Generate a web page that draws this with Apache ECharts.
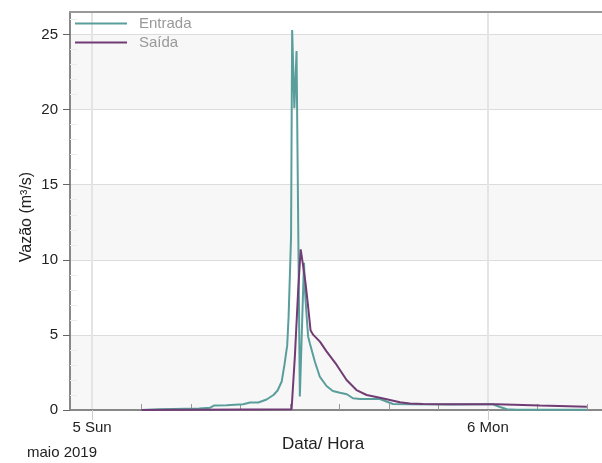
<!DOCTYPE html>
<html>
<head>
<meta charset="utf-8">
<script src="https://cdn.jsdelivr.net/npm/echarts@6/dist/echarts.min.js"></script>
<style>html,body{margin:0;padding:0;background:#fff}#c{width:602px;height:463px}</style>
</head>
<body>
<div id="c"></div>
<script>
// ---- data ----
const seriesNames = ['Entrada', 'Saída'];
const entradaTime = ['2019-05-05 03:00','2019-05-05 04:05','2019-05-05 06:30','2019-05-05 07:10','2019-05-05 07:25','2019-05-05 08:10','2019-05-05 09:10','2019-05-05 09:35','2019-05-05 10:05','2019-05-05 10:35','2019-05-05 11:00','2019-05-05 11:15','2019-05-05 11:30','2019-05-05 11:40','2019-05-05 11:50','2019-05-05 11:55','2019-05-05 12:00','2019-05-05 12:04','2019-05-05 12:08','2019-05-05 12:16','2019-05-05 12:24','2019-05-05 12:36','2019-05-05 12:51','2019-05-05 12:56','2019-05-05 13:06','2019-05-05 13:13','2019-05-05 13:31','2019-05-05 13:49','2019-05-05 14:13','2019-05-05 14:36','2019-05-05 15:02','2019-05-05 15:27','2019-05-05 15:49','2019-05-05 16:15','2019-05-05 17:27','2019-05-05 17:53','2019-05-05 18:15','2019-05-05 19:16','2019-05-05 21:42','2019-05-06 00:00','2019-05-06 00:18','2019-05-06 00:44','2019-05-06 01:09','2019-05-06 01:45','2019-05-06 06:00'];
const entradaValue = [0,0.05,0.1,0.15,0.3,0.32,0.38,0.5,0.5,0.7,1.0,1.3,1.9,3.0,4.3,6.2,9.1,11.5,25.3,20.1,23.9,0.9,9.8,7.5,4.9,4.4,3.2,2.2,1.6,1.27,1.15,1.05,0.78,0.73,0.73,0.55,0.4,0.38,0.36,0.38,0.38,0.2,0.05,0.01,0.01];
const saidaTime = ['2019-05-05 03:00','2019-05-05 12:06','2019-05-05 12:18','2019-05-05 12:30','2019-05-05 12:39','2019-05-05 12:48','2019-05-05 12:57','2019-05-05 13:06','2019-05-05 13:15','2019-05-05 13:25','2019-05-05 13:49','2019-05-05 14:13','2019-05-05 14:50','2019-05-05 15:26','2019-05-05 16:02','2019-05-05 16:39','2019-05-05 17:27','2019-05-05 18:04','2019-05-05 18:40','2019-05-05 19:16','2019-05-05 20:04','2019-05-05 21:42','2019-05-06 00:33','2019-05-06 03:09','2019-05-06 06:00'];
const saidaValue = [0,0.05,3.6,8.0,10.7,9.6,8.4,6.9,5.3,5.0,4.55,3.9,3.0,2.0,1.33,1.0,0.82,0.67,0.51,0.44,0.4,0.38,0.38,0.3,0.22];
const xTickTimes = ['2019-05-05 00:00','2019-05-06 00:00'];
const xTickLabels = ['5 Sun','6 Mon'];
const xMinorTickTimes = ['2019-05-05 03:00','2019-05-05 06:00','2019-05-05 09:00','2019-05-05 12:00','2019-05-05 15:00','2019-05-05 18:00','2019-05-05 21:00','2019-05-06 03:00','2019-05-06 06:00'];
const xRange = ['2019-05-04 22:40','2019-05-06 06:55'];
const yMinorTicks = [1,2,3,4,6,7,8,9,11,12,13,14,16,17,18,19,21,22,23,24,26];
const yTitle = 'Vazão (m³/s)';
const xTitle = 'Data/ Hora';
const periodLabel = 'maio 2019';

function ts(s){ return new Date(s.replace(' ','T') + ':00').getTime(); }
const xMin = ts(xRange[0]), xMax = ts(xRange[1]);
const majorX = xTickTimes.map(ts);
const font = 'Liberation Sans, Arial, sans-serif';
const colors = ['#5A9E9C', '#713C74'];

function legendFor(i, top) {
  return {
    data: [{name: seriesNames[i], icon: 'rect', itemStyle: {color: colors[i]}}],
    orient: 'vertical', left: 75, top: top, padding: 0,
    itemWidth: 52, itemHeight: 2,
    textStyle: {color: '#999', fontSize: 15, fontFamily: font, padding: [0,0,0,7]}
  };
}

const chart = echarts.init(document.getElementById('c'), null, {renderer:'canvas'});
chart.setOption({
  animation: false,
  textStyle: {fontFamily: font},
  grid: {left: 70, right: 0, top: 12, bottom: 53, containLabel: false},
  legend: [legendFor(0, 16), legendFor(1, 35)],
  xAxis: [
    {type:'value', min:xMin, max:xMax, position:'bottom',
     axisLine:{show:true, onZero:false, lineStyle:{color:'#888', width:2}},
     axisTick:{show:true, customValues: majorX, length:10, lineStyle:{color:'#ccc'}},
     axisLabel:{show:true, customValues: majorX, margin:10, color:'#222', fontSize:15, fontFamily:font,
       formatter: v => { const i = majorX.indexOf(v); return i >= 0 ? xTickLabels[i] : ''; }},
     splitLine:{show:true, lineStyle:{color:'#e4e4e4', width:2}}},
    {type:'value', min:xMin, max:xMax, position:'top',
     axisLine:{show:true, onZero:false, lineStyle:{color:'#999', width:2}},
     axisTick:{show:false}, axisLabel:{show:false}, splitLine:{show:false}},
    {type:'value', min:xMin, max:xMax, position:'bottom',
     axisLine:{show:false, onZero:false},
     axisTick:{show:true, inside:true, customValues: xMinorTickTimes.map(ts), length:6, lineStyle:{color:'#999'}},
     axisLabel:{show:false}, splitLine:{show:false}}
  ],
  yAxis: [
    {type:'value', min:0, max:26.5, interval:5, position:'left',
     axisLine:{show:true, onZero:false, lineStyle:{color:'#888', width:2}},
     axisTick:{show:true, length:7, lineStyle:{color:'#666'}},
     axisLabel:{color:'#222', fontSize:15, margin:12, showMaxLabel:false, fontFamily:font},
     splitLine:{show:true, lineStyle:{color:'#dcdcdc'}},
     splitArea:{show:true, areaStyle:{color:['#f7f7f7','#ffffff']}}},
    {type:'value', min:0, max:26.5, position:'left',
     axisLine:{show:false, onZero:false},
     axisTick:{show:true, inside:true, customValues: yMinorTicks, length:7, lineStyle:{color:'#ebebeb'}},
     axisLabel:{show:false}, splitLine:{show:false}}
  ],
  graphic: [
    {type:'text', x: 27, y: 217, rotation: Math.PI/2,
     style:{text: yTitle, fill:'#222', font:'16px ' + font, align:'center', verticalAlign:'middle'}},
    {type:'text', x: 323, y: 444, style:{text: xTitle, fill:'#222', font:'17px ' + font, align:'center', verticalAlign:'middle'}},
    {type:'text', x: 27, y: 453, style:{text: periodLabel, fill:'#222', font:'15px ' + font, align:'left', verticalAlign:'middle'}}
  ],
  series: [
    {name: seriesNames[0], type:'line', xAxisIndex:0, yAxisIndex:0, symbol:'none',
     lineStyle:{color:colors[0], width:2}, itemStyle:{color:colors[0]},
     data: entradaTime.map((t,i)=>[ts(t), entradaValue[i]])},
    {name: seriesNames[1], type:'line', xAxisIndex:0, yAxisIndex:0, symbol:'none',
     lineStyle:{color:colors[1], width:2}, itemStyle:{color:colors[1]},
     data: saidaTime.map((t,i)=>[ts(t), saidaValue[i]])}
  ]
});
</script>
</body>
</html>
